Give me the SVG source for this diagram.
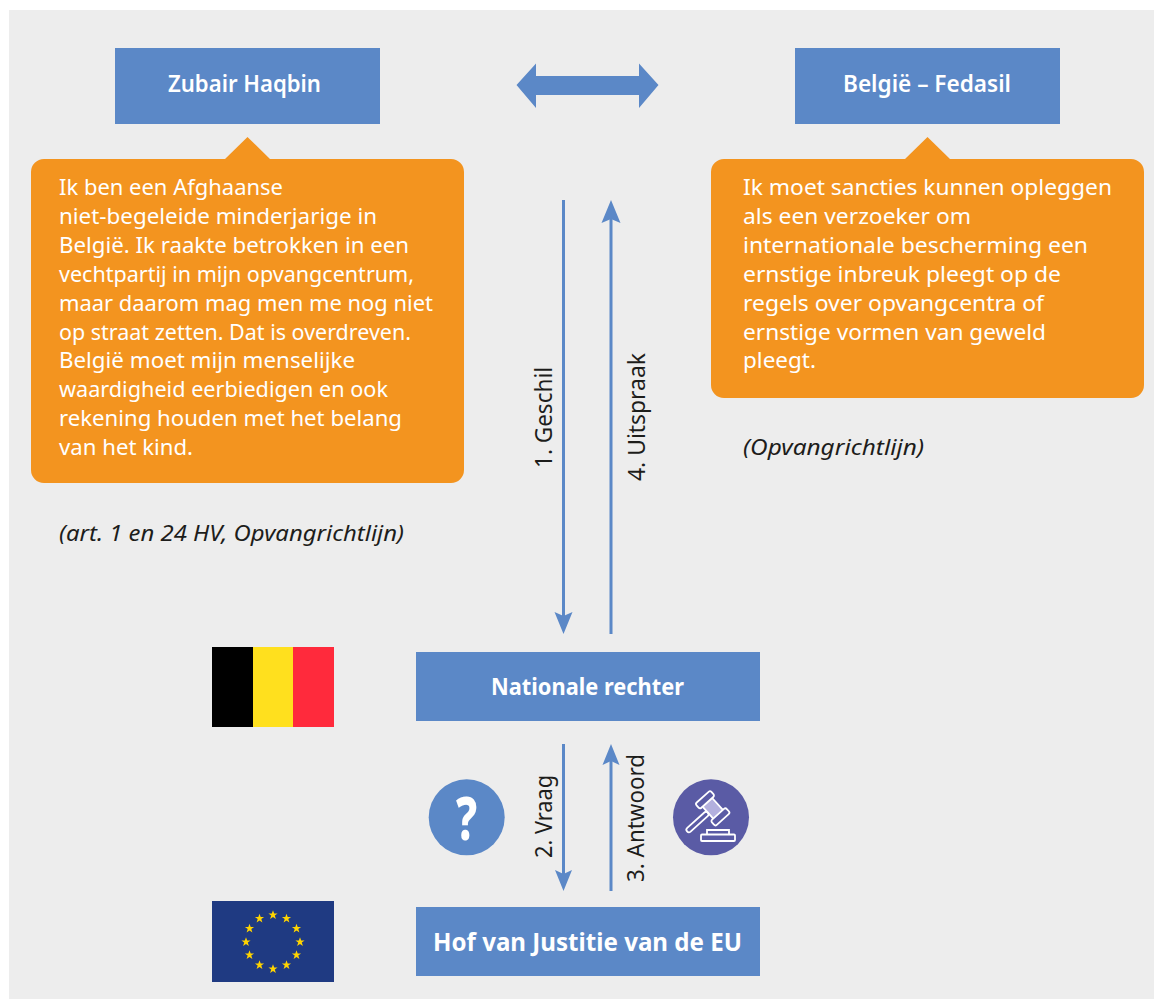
<svg xmlns="http://www.w3.org/2000/svg" width="1154" height="999" viewBox="0 0 1154 999">
<style>
text{font-family:"Noto Sans","Open Sans",sans-serif}
.box{fill:#5B88C7}
.call{fill:#F3941F}
.t{font-size:22.5px;fill:#fff}
.h{font-size:22.5px;fill:#fff;font-weight:600;text-anchor:start}
.hb{font-weight:700}
.n{font-size:24px;fill:#1D1D1B}
.i{font-size:22.5px;fill:#1D1D1B;font-style:italic}
.ln{stroke:#5B88C7;stroke-width:3;fill:none}
.hd{fill:#5B88C7}
.star{fill:#FFD400}
.g{fill:none;stroke:#fff;stroke-width:1.800}
</style>
<defs>
<polygon id="s" class="star" points="0,-4.800 1.200,-1.500 4.600,-1.500 1.800,.6 2.900,4 0,1.900 -2.900,4 -1.800,.6 -4.600,-1.500 -1.200,-1.500"/>
</defs>
<rect x="9" y="10" width="1145" height="989" fill="#EDEDED"/>
<g id="connectors">
<polygon class="hd" points="516.500,85 536,63.500 536,76 639,76 639,63.500 658.500,85 639,108 639,95 536,95 536,108"/>
<line class="ln" x1="563.500" y1="200" x2="563.500" y2="618"/>
<polygon class="hd" points="563.500,634 554.500,612 563.500,616 572.500,612"/>
<line class="ln" x1="611" y1="634" x2="611" y2="216"/>
<polygon class="hd" points="611,200 601.500,223 611,219 620.500,223"/>
<line class="ln" x1="563.500" y1="744" x2="563.500" y2="875"/>
<polygon class="hd" points="563.500,891 555,870 563.500,874 572,870"/>
<line class="ln" x1="611" y1="891" x2="611" y2="760"/>
<polygon class="hd" points="611,744 602.500,765 611,761 619.500,765"/>
<text class="n" transform="translate(552,468) rotate(-90)" textLength="101" lengthAdjust="spacingAndGlyphs">1. Geschil</text>
<text class="n" transform="translate(644.500,481) rotate(-90)" textLength="128" lengthAdjust="spacingAndGlyphs">4. Uitspraak</text>
<text class="n" transform="translate(552,858) rotate(-90)" textLength="83" lengthAdjust="spacingAndGlyphs">2. Vraag</text>
<text class="n" transform="translate(644,882) rotate(-90)" textLength="128" lengthAdjust="spacingAndGlyphs">3. Antwoord</text>
</g>
<g id="node-zubair">
<rect class="box" x="115" y="48" width="265" height="76"/>
<text class="h" x="168" y="92" textLength="153" lengthAdjust="spacingAndGlyphs">Zubair Haqbin</text>
</g>
<g id="node-fedasil">
<rect class="box" x="795" y="48" width="265" height="76"/>
<text class="h" x="843" y="92" textLength="168" lengthAdjust="spacingAndGlyphs">België – Fedasil</text>
</g>
<g id="callout-zubair">
<path class="call" d="M44,159H225L247.500,137L270,159H451a13,13 0 0 1 13,13V470a13,13 0 0 1 -13,13H44a13,13 0 0 1 -13,-13V172a13,13 0 0 1 13,-13Z"/>
<text class="t" x="59" y="195" textLength="224" lengthAdjust="spacingAndGlyphs">Ik ben een Afghaanse</text>
<text class="t" x="59" y="224" textLength="318" lengthAdjust="spacingAndGlyphs">niet-begeleide minderjarige in</text>
<text class="t" x="59" y="253" textLength="350" lengthAdjust="spacingAndGlyphs">België. Ik raakte betrokken in een</text>
<text class="t" x="59" y="282" textLength="355" lengthAdjust="spacingAndGlyphs">vechtpartij in mijn opvangcentrum,</text>
<text class="t" x="59" y="310.500" textLength="374" lengthAdjust="spacingAndGlyphs">maar daarom mag men me nog niet</text>
<text class="t" x="59" y="339.500" textLength="352" lengthAdjust="spacingAndGlyphs">op straat zetten. Dat is overdreven.</text>
<text class="t" x="59" y="368" textLength="296" lengthAdjust="spacingAndGlyphs">België moet mijn menselijke</text>
<text class="t" x="59" y="397" textLength="329" lengthAdjust="spacingAndGlyphs">waardigheid eerbiedigen en ook</text>
<text class="t" x="59" y="426" textLength="343" lengthAdjust="spacingAndGlyphs">rekening houden met het belang</text>
<text class="t" x="59" y="455" textLength="134" lengthAdjust="spacingAndGlyphs">van het kind.</text>
</g>
<text id="source-zubair" class="i" x="59" y="541" textLength="345" lengthAdjust="spacingAndGlyphs">(art. 1 en 24 HV, Opvangrichtlijn)</text>
<g id="callout-fedasil">
<path class="call" d="M724,159H905L927.500,137L950,159H1131a13,13 0 0 1 13,13V385a13,13 0 0 1 -13,13H724a13,13 0 0 1 -13,-13V172a13,13 0 0 1 13,-13Z"/>
<text class="t" x="743" y="195" textLength="369" lengthAdjust="spacingAndGlyphs">Ik moet sancties kunnen opleggen</text>
<text class="t" x="743" y="224" textLength="228" lengthAdjust="spacingAndGlyphs">als een verzoeker om</text>
<text class="t" x="743" y="253" textLength="345" lengthAdjust="spacingAndGlyphs">internationale bescherming een</text>
<text class="t" x="743" y="282" textLength="318" lengthAdjust="spacingAndGlyphs">ernstige inbreuk pleegt op de</text>
<text class="t" x="743" y="310.500" textLength="301" lengthAdjust="spacingAndGlyphs">regels over opvangcentra of</text>
<text class="t" x="743" y="339.500" textLength="303" lengthAdjust="spacingAndGlyphs">ernstige vormen van geweld</text>
<text class="t" x="743" y="368" textLength="73" lengthAdjust="spacingAndGlyphs">pleegt.</text>
</g>
<text id="source-fedasil" class="i" x="743" y="455" textLength="181" lengthAdjust="spacingAndGlyphs">(Opvangrichtlijn)</text>
<g id="flag-be">
<rect x="212" y="647" width="41" height="80" fill="#000"/>
<rect x="253" y="647" width="40" height="80" fill="#FFE01E"/>
<rect x="293" y="647" width="41" height="80" fill="#FF2A3C"/>
</g>
<g id="node-rechter">
<rect class="box" x="416" y="652" width="344" height="69"/>
<text class="h hb" x="491" y="695" textLength="193" lengthAdjust="spacingAndGlyphs">Nationale rechter</text>
</g>
<g id="icon-vraag">
<circle cx="466.700" cy="817.300" r="38" fill="#5B88C7"/>
<text transform="translate(466.700,840) scale(.72,1)" text-anchor="middle" style="font-size:60px;font-weight:800;fill:#fff">?</text>
</g>
<g id="icon-antwoord">
<circle cx="711" cy="817.300" r="38" fill="#5A5BA5"/>
<g transform="translate(712.700,808.300) rotate(48)">
<rect x="-8" y="-6.500" width="16" height="13" fill="#B3B0DE"/>
<path class="g" d="M-8,-6.500H8M-8,6.500H8"/>
<rect class="g" x="-15" y="-10" width="7" height="20" rx="2"/>
<rect class="g" x="8" y="-10" width="7" height="20" rx="2"/>
<rect class="g" x="-2.500" y="6.500" width="5" height="28" rx="2.500"/>
</g>
<rect class="g" x="701" y="834.500" width="34" height="6.500" rx="1"/>
<path class="g" d="M707,834.500V830H729V834.500"/>
</g>
<g id="flag-eu">
<rect x="212" y="901" width="122" height="81" fill="#1F3A82"/>
<use href="#s" x="273" y="915"/><use href="#s" x="286.500" y="918.500"/><use href="#s" x="296.500" y="928.500"/><use href="#s" x="300" y="942"/><use href="#s" x="296.500" y="955"/><use href="#s" x="286.500" y="965"/><use href="#s" x="273" y="969"/><use href="#s" x="259.500" y="965"/><use href="#s" x="249.500" y="955"/><use href="#s" x="246" y="942"/><use href="#s" x="249.500" y="928.500"/><use href="#s" x="259.500" y="918.500"/>
</g>
<g id="node-hof">
<rect class="box" x="416" y="907" width="344" height="69"/>
<text class="h hb" x="433" y="951" textLength="309" lengthAdjust="spacingAndGlyphs" style="font-size:25px">Hof van Justitie van de EU</text>
</g>
</svg>
